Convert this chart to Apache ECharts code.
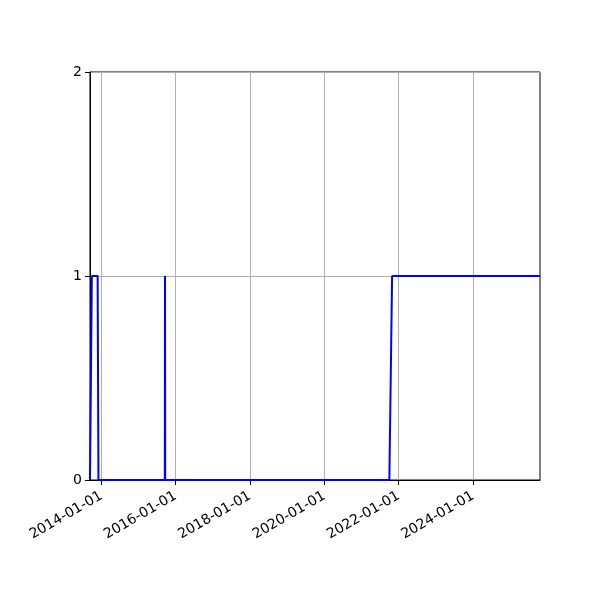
<!DOCTYPE html>
<html>
<head>
<meta charset="utf-8">
<script src="https://cdn.jsdelivr.net/npm/echarts@6/dist/echarts.min.js"></script>
<style>html,body{margin:0;padding:0;background:#fff}#c{width:600px;height:600px}</style>
</head>
<body>
<div id="c"></div>
<script>
var dates = ['2013-09-12','2013-09-29','2013-09-30','2013-11-26','2013-12-04','2015-09-17','2015-09-19','2015-09-21','2021-10-01','2021-10-28','2025-10-20'];
var values = [0,0,1,1,0,0,1,0,0,1,1];
var xTickDates = ['2014-01-01','2016-01-01','2018-01-01','2020-01-01','2022-01-01','2024-01-01'];
var yTicks = [0,1,2];
var xRange = ['2013-09-12','2025-10-20'];

function ts(s){var p=s.split('-');return Date.UTC(+p[0],+p[1]-1,+p[2]);}
function fmt(v){var d=new Date(v);function z(n){return (n<10?'0':'')+n;}return d.getUTCFullYear()+'-'+z(d.getUTCMonth()+1)+'-'+z(d.getUTCDate());}

var chart = echarts.init(document.getElementById('c'), null, {renderer:'canvas'});
var font = 'DejaVu Sans';
chart.setOption({
  animation:false,
  backgroundColor:'#fff',
  grid:{left:90,right:60,top:72,bottom:120,show:true,borderColor:'#000',borderWidth:1,backgroundColor:'transparent'},
  xAxis:{
    type:'value',
    min:ts(xRange[0]), max:ts(xRange[1]),
    axisLine:{show:true,lineStyle:{color:'#000',width:1}},
    axisTick:{show:true,inside:false,length:5,lineStyle:{color:'#000',width:1},customValues:xTickDates.map(ts)},
    axisLabel:{show:true,rotate:30,margin:15,color:'#000',fontFamily:font,fontSize:14,customValues:xTickDates.map(ts),formatter:function(v){return fmt(v);}},
    splitLine:{show:true,lineStyle:{color:'#b0b0b0',width:1}}
  },
  yAxis:{
    type:'value',min:0,max:2,interval:1,
    axisLine:{show:true,lineStyle:{color:'#000',width:1}},
    axisTick:{show:true,inside:false,length:5,lineStyle:{color:'#000'}},
    axisLabel:{color:'#000',fontFamily:font,fontSize:14,margin:8,formatter:function(v){return yTicks.indexOf(v)>=0?String(v):'';}},
    splitLine:{show:true,lineStyle:{color:'#b0b0b0',width:1}}
  },
  series:[{
    type:'line',
    data:dates.map(function(d,i){return [ts(d),values[i]];}),
    showSymbol:false,symbol:'none',
    lineStyle:{color:'#0000ff',width:2},
    clip:true
  }]
});
</script>
</body>
</html>
